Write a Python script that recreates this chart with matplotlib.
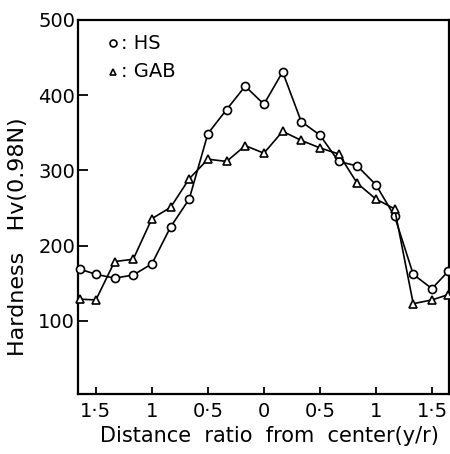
import numpy as np
import matplotlib.pyplot as plt

# distance ratio y/r (left side negative, shown as absolute values)
x = [-1.645, -1.5, -1.333, -1.167, -1.0, -0.833, -0.667, -0.5, -0.333, -0.167, 0.0,
     0.167, 0.333, 0.5, 0.667, 0.833, 1.0, 1.167, 1.333, 1.5, 1.645]
hs = [169, 162, 157, 161, 176, 225, 262, 349, 381, 412, 388,
      431, 365, 347, 312, 306, 281, 239, 162, 143, 166]
gab = [129, 128, 179, 182, 236, 251, 289, 315, 312, 333, 323,
       352, 340, 330, 322, 283, 262, 249, 123, 128, 135]

xticks = [-1.5, -1, -0.5, 0, 0.5, 1, 1.5]
xticklabels = ['1·5', '1', '0·5', '0', '0·5', '1', '1·5']
yticks = [100, 200, 300, 400, 500]

plt.rcParams['font.family'] = 'DejaVu Sans'
fig = plt.figure(figsize=(4.5, 4.54), dpi=100)
ax = fig.add_axes([0.1733, 0.1322, 0.8244, 0.8238])

ax.plot(x, hs, color='black', lw=1.2, marker='o', ms=5.8, mfc='white', mec='black', mew=1.2, clip_on=False, zorder=3)
ax.plot(x, gab, color='black', lw=1.2, marker='^', ms=5.8, mfc='white', mec='black', mew=1.2, clip_on=False, zorder=3)

ax.set_xlim(-1.66, 1.652)
ax.set_ylim(3, 500)
ax.set_xticks(xticks)
ax.set_xticklabels(xticklabels)
ax.set_yticks(yticks)
ax.tick_params(axis='both', direction='in', labelsize=14, width=1.3, color='black')
ax.tick_params(axis='x', length=5, pad=6)
ax.tick_params(axis='y', length=7, pad=2)
for s in ax.spines.values():
    s.set_linewidth(1.6)

ax.set_xlabel('Distance  ratio  from  center(y/r)', fontsize=15)
ax.set_ylabel('Hardness   Hv(0.98N)', fontsize=16)
ax.xaxis.set_label_coords(0.517, -0.085)
ax.yaxis.set_label_coords(-0.135, 0.42)

# legend drawn by hand
ax.plot([0.094], [0.938], 'o', ms=5, mfc='white', mec='black', mew=1.2, transform=ax.transAxes)
ax.plot([0.094], [0.861], '^', ms=5, mfc='white', mec='black', mew=1.2, transform=ax.transAxes)
ax.text(0.115, 0.938, ': HS', fontsize=14, va='center', ha='left', transform=ax.transAxes)
ax.text(0.115, 0.861, ': GAB', fontsize=14, va='center', ha='left', transform=ax.transAxes)

fig.savefig('out.png', dpi=100)
